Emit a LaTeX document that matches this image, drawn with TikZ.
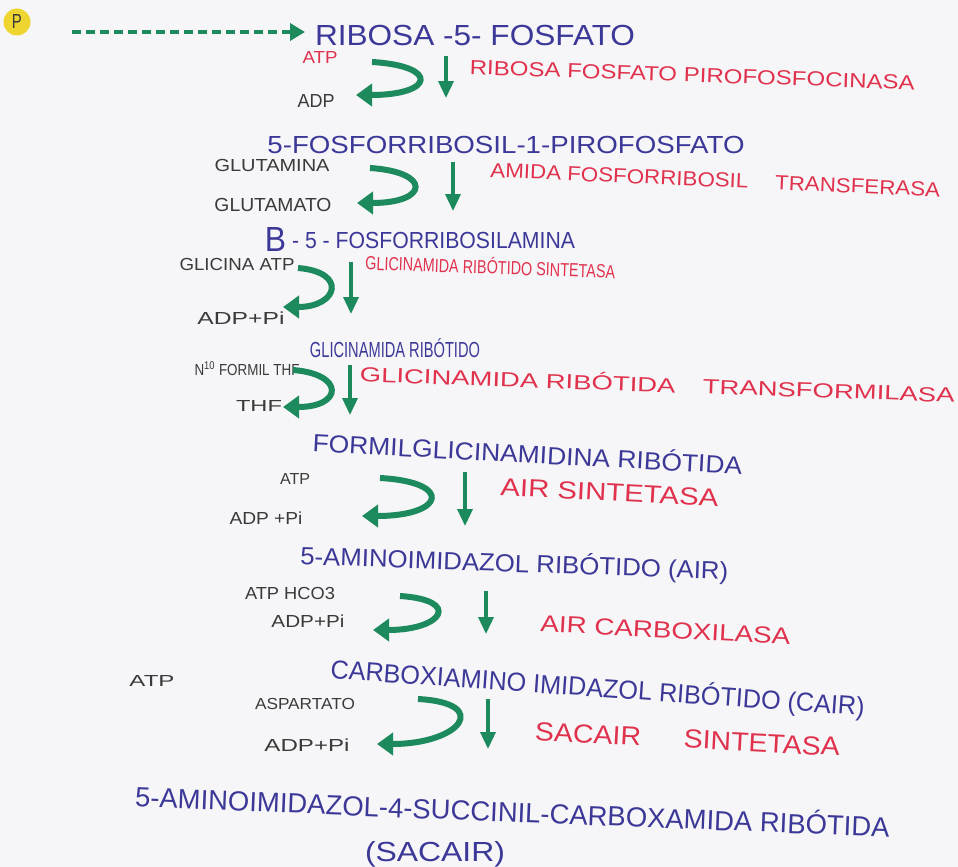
\documentclass[tikz,border=0pt]{standalone}
\usepackage{fontspec}
\setmainfont{Liberation Sans}
\usepackage{graphicx}
\usetikzlibrary{arrows.meta}
\definecolor{paper}{RGB}{246,246,248}
\definecolor{inkblue}{HTML}{3C3898}
\definecolor{inkred}{HTML}{E0324D}
\definecolor{inkdark}{HTML}{3A3A3A}
\definecolor{inkgreen}{HTML}{1C8A5C}
\definecolor{hilite}{HTML}{EED530}
% width, cap height, text
\newcommand\fitwh[3]{\resizebox{#1pt}{#2pt}{\smash{#3}\vphantom{X}}}
\begin{document}
\begin{tikzpicture}[x=1pt,y=-1pt,
  sub/.style={inner sep=0pt,text=inkblue,anchor=base},
  enz/.style={inner sep=0pt,text=inkred,anchor=base},
  cof/.style={inner sep=0pt,text=inkdark,anchor=base},
  curv/.style={draw=inkgreen,line width=6pt,-{Triangle[length=16pt,width=22pt]}},
  downarr/.style={draw=inkgreen,line width=3.5pt,-{Triangle[length=17pt,width=15pt]}},
  dashline/.style={draw=inkgreen,line width=4.5pt,dash pattern=on 9pt off 5pt,-{Triangle[length=15pt,width=17pt]}}]
\fill[paper] (0,0) rectangle (958,867);

% start
\node[circle,fill=hilite,minimum size=27pt,inner sep=0pt,text=inkdark] (p) at (17,22) {\fitwh{10}{14}{P}};
\node[sub] (s1) at (475,46) {\fitwh{320}{20}{RIBOSA -5- FOSFATO}};
\coordinate (d1) at (72,32);
\coordinate (d0) at (305,32);
\draw[dashline] (d1) -- (d0);

% step 1
\node[cof,text=inkred] (atp1) at (320,64) {\fitwh{35}{12}{ATP}};
\node[cof] (adp1) at (316,107) {\fitwh{37}{13}{ADP}};
\node[enz,rotate=-2] (e1) at (692,82) {\fitwh{445}{14}{RIBOSA FOSFATO PIROFOSFOCINASA}};
\node[sub] (s2) at (506,153) {\fitwh{477}{17}{5-FOSFORRIBOSIL-1-PIROFOSFATO}};
\coordinate (ca1) at (372,62); \coordinate (cb1) at (356,95);
\draw[curv] (ca1) .. controls +(68,4) and +(78,0) .. (cb1);
\coordinate (da1) at (446,56); \coordinate (db1) at (446,98);
\draw[downarr] (da1) -- (db1);

% step 2
\node[cof] (gln) at (272,171) {\fitwh{115}{12}{GLUTAMINA}};
\node[cof] (glu) at (273,211) {\fitwh{117}{13}{GLUTAMATO}};
\node[enz,rotate=-2.5] (e2) at (715,187) {\fitwh{450}{14}{AMIDA FOSFORRIBOSIL\hspace{1.2em}TRANSFERASA}};
\node[sub] (s3) at (420,248) {\fitwh{310}{16}{\raisebox{-0.15em}{\scalebox{1.5}{B}} - 5 - FOSFORRIBOSILAMINA}};
\coordinate (ca2) at (370,168); \coordinate (cb2) at (357,203);
\draw[curv] (ca2) .. controls +(62,4) and +(72,0) .. (cb2);
\coordinate (da2) at (453,162); \coordinate (db2) at (453,211);
\draw[downarr] (da2) -- (db2);

% step 3
\node[cof] (gly) at (237,270) {\fitwh{115}{12}{GLICINA ATP}};
\node[cof] (adp3) at (241,324) {\fitwh{87}{12}{ADP+Pi}};
\node[enz,rotate=-2] (e3) at (490,274) {\fitwh{250}{13}{GLICINAMIDA RIBÓTIDO SINTETASA}};
\node[sub] (s4) at (395,357) {\fitwh{170}{15}{GLICINAMIDA RIBÓTIDO}};
\coordinate (ca3) at (298,268); \coordinate (cb3) at (283,307);
\draw[curv] (ca3) .. controls +(50,4) and +(55,0) .. (cb3);
\coordinate (da3) at (351,262); \coordinate (db3) at (351,314);
\draw[downarr] (da3) -- (db3);

% step 4
\node[cof] (n10) at (247,375) {\fitwh{105}{11}{N\textsuperscript{10} FORMIL THF}};
\node[cof] (thf) at (259,411) {\fitwh{46}{11}{THF}};
\node[enz,rotate=-2] (e4) at (657,392) {\fitwh{595}{14}{GLICINAMIDA RIBÓTIDA\hspace{1em}TRANSFORMILASA}};
\node[sub,rotate=-3] (s5) at (527,463) {\fitwh{430}{17}{FORMILGLICINAMIDINA RIBÓTIDA}};
\coordinate (ca4) at (293,370); \coordinate (cb4) at (283,407);
\draw[curv] (ca4) .. controls +(52,4) and +(60,0) .. (cb4);
\coordinate (da4) at (350,365); \coordinate (db4) at (350,415);
\draw[downarr] (da4) -- (db4);

% step 5
\node[cof] (atp5) at (295,484) {\fitwh{30}{11}{ATP}};
\node[cof] (adp5) at (266,524) {\fitwh{73}{12}{ADP +Pi}};
\node[enz,rotate=-3] (e5) at (609,501) {\fitwh{218}{17}{AIR SINTETASA}};
\node[sub,rotate=-2] (s6) at (514,572) {\fitwh{428}{17}{5-AMINOIMIDAZOL RIBÓTIDO (AIR)}};
\coordinate (ca5) at (380,478); \coordinate (cb5) at (362,516);
\draw[curv] (ca5) .. controls +(74,4) and +(83,0) .. (cb5);
\coordinate (da5) at (465,472); \coordinate (db5) at (465,526);
\draw[downarr] (da5) -- (db5);

% step 6
\node[cof] (atp6) at (290,599) {\fitwh{90}{12}{ATP HCO3}};
\node[cof] (adp6) at (308,627) {\fitwh{73}{12}{ADP+Pi}};
\node[enz,rotate=-3] (e6) at (665,638) {\fitwh{250}{16}{AIR CARBOXILASA}};
\node[sub,rotate=-4] (s7) at (597,697) {\fitwh{535}{18}{CARBOXIAMINO IMIDAZOL RIBÓTIDO (CAIR)}};
\coordinate (ca6) at (400,596); \coordinate (cb6) at (373,630);
\draw[curv] (ca6) .. controls +(62,4) and +(70,0) .. (cb6);
\coordinate (da6) at (486,591); \coordinate (db6) at (486,634);
\draw[downarr] (da6) -- (db6);

% step 7
\node[cof] (atp7) at (152,686) {\fitwh{45}{11}{ATP}};
\node[cof] (asp) at (305,709) {\fitwh{100}{11}{ASPARTATO}};
\node[cof] (adp7) at (307,751) {\fitwh{85}{12}{ADP+Pi}};
\node[enz,rotate=-3] (e7) at (687,748) {\fitwh{305}{18}{SACAIR\hspace{1.5em}SINTETASA}};
\node[sub,rotate=-2.3] (s8) at (512,822) {\fitwh{755}{19}{5-AMINOIMIDAZOL-4-SUCCINIL-CARBOXAMIDA RIBÓTIDA}};
\node[sub] (sacair) at (435,861) {\fitwh{140}{19}{(SACAIR)}};
\coordinate (ca7) at (418,699); \coordinate (cb7) at (377,744);
\draw[curv] (ca7) .. controls +(74,4) and +(84,0) .. (cb7);
\coordinate (da7) at (488,699); \coordinate (db7) at (488,749);
\draw[downarr] (da7) -- (db7);
\end{tikzpicture}
\end{document}
